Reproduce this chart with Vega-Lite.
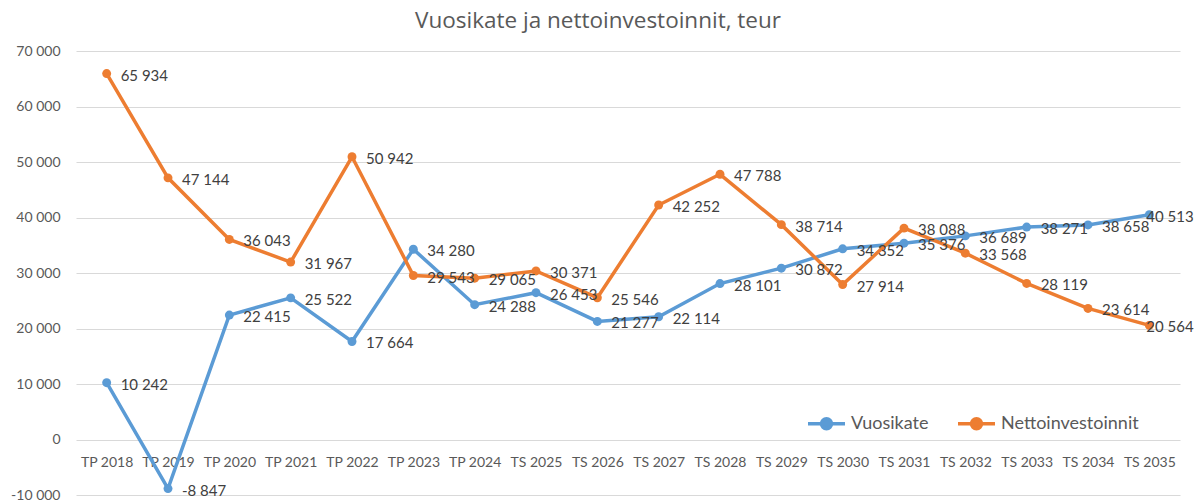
{
  "$schema": "https://vega.github.io/schema/vega-lite/v6.json",
  "width": 1104,
  "height": 444,
  "autosize": {"type": "none"},
  "padding": {"left": 76, "top": 51, "right": 15, "bottom": 7},
  "background": "white",
  "config": {
    "locale": {"number": {"decimal": ",", "thousands": "\u00a0", "grouping": [3], "currency": ["", " €"], "minus": "-"}},
    "view": {"stroke": null},
    "font": "Lato"
  },
  "title": {"text": "Vuosikate ja nettoinvestoinnit, teur", "fontSize": 22.5, "font": "Open Sans", "fontWeight": "normal", "color": "#595959", "anchor": "middle", "offset": 12, "dx": -30},
  "data": {"values": [
    {"year": "TP 2018", "series": "Vuosikate", "value": 10242},
    {"year": "TP 2019", "series": "Vuosikate", "value": -8847},
    {"year": "TP 2020", "series": "Vuosikate", "value": 22415},
    {"year": "TP 2021", "series": "Vuosikate", "value": 25522},
    {"year": "TP 2022", "series": "Vuosikate", "value": 17664},
    {"year": "TP 2023", "series": "Vuosikate", "value": 34280},
    {"year": "TP 2024", "series": "Vuosikate", "value": 24288},
    {"year": "TS 2025", "series": "Vuosikate", "value": 26453},
    {"year": "TS 2026", "series": "Vuosikate", "value": 21277},
    {"year": "TS 2027", "series": "Vuosikate", "value": 22114},
    {"year": "TS 2028", "series": "Vuosikate", "value": 28101},
    {"year": "TS 2029", "series": "Vuosikate", "value": 30872},
    {"year": "TS 2030", "series": "Vuosikate", "value": 34352},
    {"year": "TS 2031", "series": "Vuosikate", "value": 35376},
    {"year": "TS 2032", "series": "Vuosikate", "value": 36689},
    {"year": "TS 2033", "series": "Vuosikate", "value": 38271},
    {"year": "TS 2034", "series": "Vuosikate", "value": 38658},
    {"year": "TS 2035", "series": "Vuosikate", "value": 40513},
    {"year": "TP 2018", "series": "Nettoinvestoinnit", "value": 65934},
    {"year": "TP 2019", "series": "Nettoinvestoinnit", "value": 47144},
    {"year": "TP 2020", "series": "Nettoinvestoinnit", "value": 36043},
    {"year": "TP 2021", "series": "Nettoinvestoinnit", "value": 31967},
    {"year": "TP 2022", "series": "Nettoinvestoinnit", "value": 50942},
    {"year": "TP 2023", "series": "Nettoinvestoinnit", "value": 29543},
    {"year": "TP 2024", "series": "Nettoinvestoinnit", "value": 29065},
    {"year": "TS 2025", "series": "Nettoinvestoinnit", "value": 30371},
    {"year": "TS 2026", "series": "Nettoinvestoinnit", "value": 25546},
    {"year": "TS 2027", "series": "Nettoinvestoinnit", "value": 42252},
    {"year": "TS 2028", "series": "Nettoinvestoinnit", "value": 47788},
    {"year": "TS 2029", "series": "Nettoinvestoinnit", "value": 38714},
    {"year": "TS 2030", "series": "Nettoinvestoinnit", "value": 27914},
    {"year": "TS 2031", "series": "Nettoinvestoinnit", "value": 38088},
    {"year": "TS 2032", "series": "Nettoinvestoinnit", "value": 33568},
    {"year": "TS 2033", "series": "Nettoinvestoinnit", "value": 28119},
    {"year": "TS 2034", "series": "Nettoinvestoinnit", "value": 23614},
    {"year": "TS 2035", "series": "Nettoinvestoinnit", "value": 20564}
  ]},
  "encoding": {
    "x": {"field": "year", "type": "ordinal", "sort": null, "scale": {"type": "point", "padding": 0.5},
      "axis": {"title": null, "domain": false, "ticks": false, "grid": false, "labelAngle": 0, "labelFontSize": 14, "labelColor": "#595959", "offset": -55.5, "labelPadding": 16, "labelFont": "Lato"}},
    "y": {"field": "value", "type": "quantitative", "scale": {"domain": [-10000, 70000], "nice": false, "zero": false},
      "axis": {"title": null, "domain": false, "ticks": false, "values": [-10000, 0, 10000, 20000, 30000, 40000, 50000, 60000, 70000], "format": ",d", "labelFontSize": 14, "labelColor": "#595959", "labelPadding": 16, "gridColor": "#d9d9d9", "gridWidth": 1, "labelFont": "Lato"}}
  },
  "layer": [
    {
      "mark": {"type": "line", "strokeWidth": 3.5},
      "encoding": {
        "color": {"field": "series", "type": "nominal", "sort": null,
          "scale": {"domain": ["Vuosikate", "Nettoinvestoinnit"], "range": ["#5b9bd5", "#ed7d31"]},
          "legend": {"title": null, "orient": "none", "legendX": 730, "legendY": 352, "direction": "horizontal",
            "symbolType": "M-1,0H1M-0.27,0A0.27,0.27 0 1 1 0.27,0A0.27,0.27 0 1 1 -0.27,0Z",
            "symbolSize": 1369, "symbolStrokeWidth": 3.5, "labelFontSize": 18, "labelColor": "#595959", "labelFont": "Lato", "labelOffset": 4, "columnPadding": 22,
            "encode": {"symbols": {"update": {"fill": {"scale": "color", "field": "value"}, "stroke": {"scale": "color", "field": "value"}}}}}
        }
      }
    },
    {
      "mark": {"type": "point", "filled": true, "size": 80, "opacity": 1},
      "encoding": {"color": {"field": "series", "type": "nominal", "sort": null, "legend": null}}
    },
    {
      "transform": [{"filter": "datum.year != 'TS 2035'"}],
      "mark": {"type": "text", "align": "left", "baseline": "middle", "dx": 14, "dy": 2, "fontSize": 15, "color": "#404040", "font": "Lato"},
      "encoding": {"text": {"field": "value", "type": "quantitative", "format": ",d"}}
    },
    {
      "transform": [{"filter": "datum.year == 'TS 2035'"}],
      "mark": {"type": "text", "align": "left", "baseline": "middle", "dx": -3, "dy": 2, "fontSize": 15, "color": "#404040", "font": "Lato"},
      "encoding": {"text": {"field": "value", "type": "quantitative", "format": ",d"}}
    }
  ]
}
